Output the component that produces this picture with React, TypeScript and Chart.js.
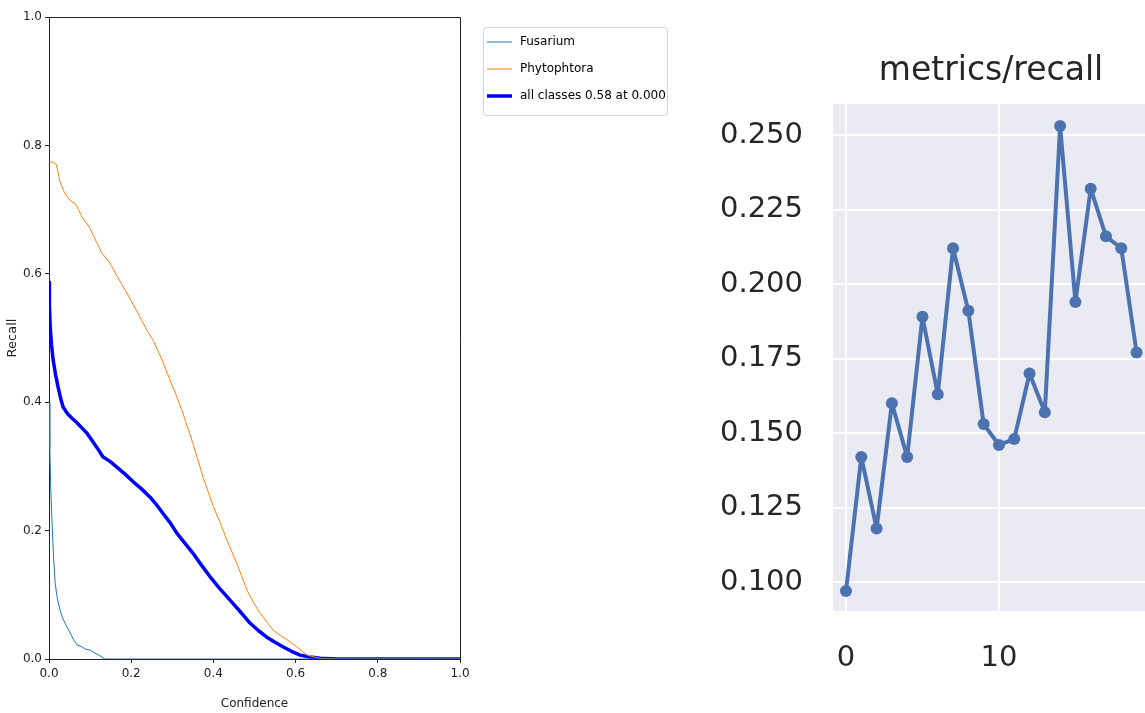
import React, { useEffect, useRef } from "react";
import { Chart, registerables } from "chart.js";

Chart.register(...registerables);

// ---------- Left chart: Recall-Confidence curve ----------
const fusariumConf = [0, 0.002, 0.004, 0.007, 0.011, 0.015, 0.02, 0.027, 0.033, 0.039, 0.05, 0.06, 0.068, 0.08, 0.09, 0.1, 0.112, 0.124, 0.136, 0.2, 0.4, 0.6, 0.8, 1.0];
const fusariumRecall = [0.4, 0.33, 0.27, 0.22, 0.16, 0.118, 0.095, 0.076, 0.064, 0.056, 0.042, 0.03, 0.022, 0.019, 0.015, 0.014, 0.009, 0.005, 0, 0, 0, 0, 0, 0];

const phytoConf = [0, 0.01, 0.018, 0.027, 0.035, 0.044, 0.055, 0.063, 0.072, 0.08, 0.1, 0.115, 0.129, 0.148, 0.165, 0.185, 0.2, 0.221, 0.24, 0.253, 0.275, 0.294, 0.31, 0.323, 0.35, 0.375, 0.4, 0.418, 0.433, 0.457, 0.482, 0.5, 0.513, 0.53, 0.545, 0.562, 0.579, 0.603, 0.628, 0.66, 0.7, 0.8, 0.9, 1.0];
const phytoRecall = [0.774, 0.774, 0.77, 0.743, 0.73, 0.72, 0.712, 0.71, 0.7, 0.689, 0.671, 0.65, 0.632, 0.617, 0.597, 0.575, 0.558, 0.533, 0.51, 0.497, 0.466, 0.435, 0.41, 0.388, 0.336, 0.283, 0.237, 0.21, 0.185, 0.149, 0.107, 0.085, 0.072, 0.058, 0.045, 0.037, 0.03, 0.019, 0.006, 0.001, 0, 0, 0, 0];

const allConf = [0, 0.001, 0.003, 0.006, 0.01, 0.016, 0.022, 0.028, 0.034, 0.045, 0.056, 0.068, 0.08, 0.092, 0.104, 0.118, 0.131, 0.15, 0.165, 0.185, 0.205, 0.225, 0.246, 0.262, 0.277, 0.295, 0.311, 0.33, 0.35, 0.37, 0.392, 0.415, 0.44, 0.465, 0.489, 0.51, 0.53, 0.55, 0.569, 0.59, 0.611, 0.635, 0.66, 0.7, 0.8, 0.9, 1.0];
const allRecall = [0.587, 0.55, 0.517, 0.49, 0.466, 0.443, 0.424, 0.407, 0.393, 0.382, 0.375, 0.368, 0.36, 0.352, 0.341, 0.328, 0.315, 0.307, 0.299, 0.288, 0.276, 0.265, 0.252, 0.24, 0.227, 0.212, 0.196, 0.181, 0.165, 0.147, 0.128, 0.11, 0.092, 0.074, 0.056, 0.044, 0.034, 0.026, 0.019, 0.012, 0.006, 0.003, 0.001, 0, 0, 0, 0];

const seriesNames = ["Fusarium", "Phytophtora", "all classes 0.58 at 0.000"];
const seriesColors = ["#1f77b4", "#ff7f0e", "#0000ff"];
const seriesWidths = [1, 1, 3.5];
const confTicks = [0, 0.2, 0.4, 0.6, 0.8, 1.0];
const recallTicks = [0, 0.2, 0.4, 0.6, 0.8, 1.0];

// ---------- Right chart: metrics/recall ----------
const epochs = [0, 1, 2, 3, 4, 5, 6, 7, 8, 9, 10, 11, 12, 13, 14, 15, 16, 17, 18, 19];
const recallValues = [0.097, 0.142, 0.118, 0.160, 0.142, 0.189, 0.163, 0.212, 0.191, 0.153, 0.146, 0.148, 0.170, 0.157, 0.253, 0.194, 0.232, 0.216, 0.212, 0.177];
const epochTicks = [0, 10];
const metricTicks = [0.1, 0.125, 0.15, 0.175, 0.2, 0.225, 0.25];
const metricTitle = "metrics/recall";

const toPoints = (xs: number[], ys: number[]) => xs.map((x, i) => ({ x, y: ys[i] }));

const LEFT_W = 690;
const RIGHT_W = 455;
const H = 713;

function LeftChart() {
  const ref = useRef<HTMLCanvasElement | null>(null);
  useEffect(() => {
    if (!ref.current) return;
    const framePlugin = {
      id: "frame",
      afterDatasetsDraw(chart: any) {
        const { ctx, chartArea } = chart;
        const { left, top, right, bottom } = chartArea;
        ctx.save();
        ctx.strokeStyle = "#222";
        ctx.lineWidth = 1;
        ctx.beginPath();
        ctx.moveTo(left, Math.round(top) + 0.5);
        ctx.lineTo(Math.round(right) + 0.5, Math.round(top) + 0.5);
        ctx.lineTo(Math.round(right) + 0.5, bottom);
        ctx.stroke();
        ctx.restore();
      },
      afterDraw(chart: any) {
        const { ctx } = chart;
        ctx.save();
        const bx = 483.5, by = 27.5, bw = 184, bh = 88;
        ctx.fillStyle = "#fff";
        ctx.strokeStyle = "#d4d4d4";
        ctx.lineWidth = 1;
        ctx.beginPath();
        (ctx as any).roundRect(bx, by, bw, bh, 3);
        ctx.fill();
        ctx.stroke();
        const rows = [42, 69, 96];
        ctx.font = "12px 'DejaVu Sans'";
        ctx.textBaseline = "middle";
        ctx.textAlign = "left";
        seriesNames.forEach((name, i) => {
          ctx.strokeStyle = seriesColors[i];
          ctx.lineWidth = seriesWidths[i];
          ctx.beginPath();
          ctx.moveTo(487, rows[i]);
          ctx.lineTo(512, rows[i]);
          ctx.stroke();
          ctx.fillStyle = "#000";
          ctx.fillText(name, 520, rows[i]);
        });
        ctx.restore();
      },
    };
    const chart = new Chart(ref.current, {
      type: "line",
      data: {
        datasets: [
          { label: seriesNames[0], data: toPoints(fusariumConf, fusariumRecall), borderColor: seriesColors[0], borderWidth: seriesWidths[0], pointRadius: 0, tension: 0, borderJoinStyle: "round" },
          { label: seriesNames[1], data: toPoints(phytoConf, phytoRecall), borderColor: seriesColors[1], borderWidth: seriesWidths[1], pointRadius: 0, tension: 0, borderJoinStyle: "round" },
          { label: seriesNames[2], data: toPoints(allConf, allRecall), borderColor: seriesColors[2], borderWidth: seriesWidths[2], pointRadius: 0, tension: 0, borderJoinStyle: "round" },
        ],
      },
      options: {
        animation: false,
        responsive: false,
        events: [],
        layout: { autoPadding: false, padding: { left: 0, top: 17, right: LEFT_W - 460, bottom: 0 } },
        plugins: { legend: { display: false }, tooltip: { enabled: false } },
        scales: {
          x: {
            type: "linear",
            min: 0,
            max: 1,
            afterBuildTicks: (s: any) => { s.ticks = confTicks.map((v) => ({ value: v })); },
            afterFit: (s: any) => { s.height = H - 659; },
            grid: { drawOnChartArea: false, drawTicks: true, tickLength: 4, color: "#222" },
            border: { display: true, color: "#222", width: 1 },
            ticks: { color: "#222", padding: 4, font: { family: "DejaVu Sans", size: 12 }, callback: (v: any) => Number(v).toFixed(1), maxRotation: 0 },
            title: { display: true, text: "Confidence", color: "#222", font: { family: "DejaVu Sans", size: 12 }, padding: { top: 0, bottom: 2 } },
          },
          y: {
            type: "linear",
            min: 0,
            max: 1,
            afterBuildTicks: (s: any) => { s.ticks = recallTicks.map((v) => ({ value: v })); },
            afterFit: (s: any) => { s.width = 49; },
            grid: { drawOnChartArea: false, drawTicks: true, tickLength: 4, color: "#222" },
            border: { display: true, color: "#222", width: 1 },
            ticks: { color: "#222", padding: 3, font: { family: "DejaVu Sans", size: 12 }, callback: (v: any) => Number(v).toFixed(1) },
            title: { display: true, text: "Recall", color: "#222", font: { family: "DejaVu Sans", size: 13 }, padding: { top: 5, bottom: 0 } },
          },
        },
      },
      plugins: [framePlugin],
    } as any);
    return () => chart.destroy();
  }, []);
  return <canvas ref={ref} width={LEFT_W} height={H} style={{ width: LEFT_W, height: H, display: "block" }} />;
}

function RightChart() {
  const ref = useRef<HTMLCanvasElement | null>(null);
  useEffect(() => {
    if (!ref.current) return;
    const seabornPlugin = {
      id: "seaborn",
      beforeDraw(chart: any) {
        const { ctx, chartArea } = chart;
        ctx.save();
        ctx.fillStyle = "#eaeaf2";
        ctx.fillRect(chartArea.left, chartArea.top, chartArea.right - chartArea.left, chartArea.bottom - chartArea.top);
        ctx.restore();
      },
      afterDraw(chart: any) {
        const { ctx } = chart;
        ctx.save();
        ctx.fillStyle = "#262626";
        ctx.font = "33px 'DejaVu Sans'";
        ctx.textAlign = "center";
        ctx.textBaseline = "middle";
        ctx.fillText(metricTitle, 301, 71);
        ctx.restore();
      },
    };
    const chart = new Chart(ref.current, {
      type: "line",
      data: {
        datasets: [
          {
            label: metricTitle,
            data: toPoints(epochs, recallValues),
            borderColor: "#4c72b0",
            backgroundColor: "#4c72b0",
            borderWidth: 4,
            borderJoinStyle: "round",
            borderCapStyle: "round",
            pointRadius: 6,
            pointBorderWidth: 0,
            tension: 0,
          },
        ],
      },
      options: {
        animation: false,
        responsive: false,
        events: [],
        layout: { autoPadding: false, padding: { left: 0, top: 104, right: 0, bottom: 0 } },
        plugins: { legend: { display: false }, tooltip: { enabled: false } },
        scales: {
          x: {
            type: "linear",
            min: -0.85,
            max: 19.55,
            afterBuildTicks: (s: any) => { s.ticks = epochTicks.map((v) => ({ value: v })); },
            afterFit: (s: any) => { s.height = H - 611; s.paddingLeft = 0; s.paddingRight = 0; },
            grid: { color: "#ffffff", lineWidth: 2, drawTicks: false },
            border: { display: false },
            ticks: { color: "#262626", padding: 30, font: { family: "DejaVu Sans", size: 29 }, maxRotation: 0 },
          },
          y: {
            type: "linear",
            min: 0.0903,
            max: 0.2604,
            afterBuildTicks: (s: any) => { s.ticks = metricTicks.map((v) => ({ value: v })); },
            afterFit: (s: any) => { s.width = 143; s.paddingTop = 0; s.paddingBottom = 0; },
            grid: { color: "#ffffff", lineWidth: 2, drawTicks: false },
            border: { display: false },
            ticks: { color: "#262626", padding: 30, font: { family: "DejaVu Sans", size: 29 }, callback: (v: any) => Number(v).toFixed(3) },
          },
        },
      },
      plugins: [seabornPlugin],
    } as any);
    return () => chart.destroy();
  }, []);
  return <canvas ref={ref} width={RIGHT_W} height={H} style={{ width: RIGHT_W, height: H, display: "block" }} />;
}

export default function App() {
  return (
    <div style={{ position: "fixed", left: 0, top: 0, width: 1145, height: H, background: "#fff", overflow: "hidden" }}>
      <div style={{ position: "absolute", left: 0, top: 0 }}>
        <LeftChart />
      </div>
      <div style={{ position: "absolute", left: LEFT_W, top: 0 }}>
        <RightChart />
      </div>
    </div>
  );
}
